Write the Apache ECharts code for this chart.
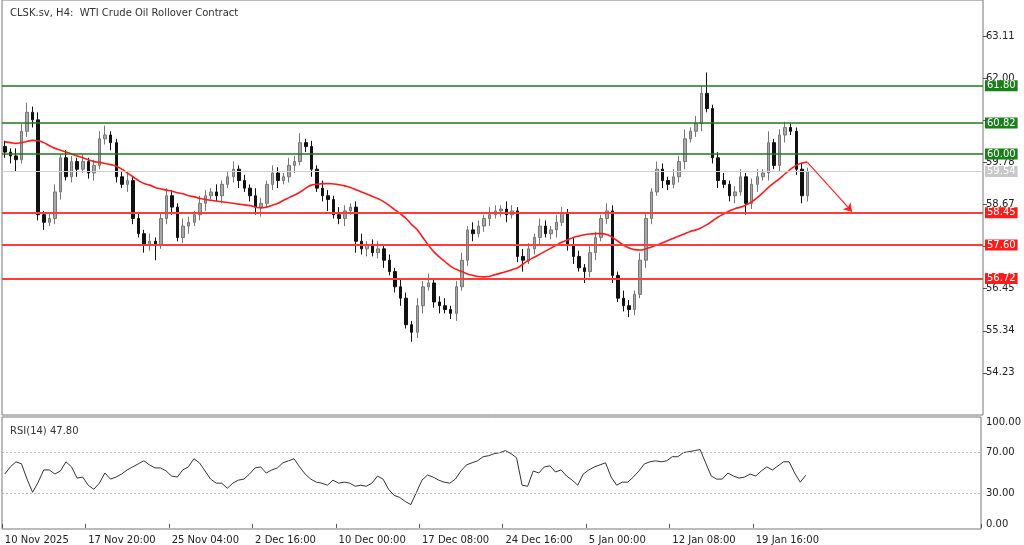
<!DOCTYPE html>
<html><head><meta charset="utf-8">
<script src="https://cdn.jsdelivr.net/npm/echarts@6/dist/echarts.min.js"></script>
<style>html,body{margin:0;padding:0;background:#fff}#c{width:1024px;height:545px}</style>
</head><body><div id="c"></div>
<script>
const closes=[60.05,59.95,59.85,60.6,61.1,60.9,58.4,58.2,58.3,59.0,59.9,59.4,59.8,59.6,59.8,59.5,59.7,60.4,60.5,60.3,
59.4,59.2,59.3,58.3,57.9,57.6,57.7,57.6,58.3,58.9,58.6,57.8,58.1,58.2,58.4,58.7,58.9,59.0,58.9,59.2,
59.4,59.6,59.3,59.1,58.9,58.6,58.7,59.2,59.5,59.3,59.4,59.7,59.8,60.3,60.2,59.6,59.1,58.9,58.8,58.4,
58.3,58.5,58.6,57.7,57.5,57.6,57.4,57.5,57.2,56.9,56.5,56.2,55.5,55.3,56.0,56.5,56.6,56.1,56.0,55.9,
55.8,56.5,57.2,58.0,57.9,58.1,58.3,58.4,58.5,58.55,58.4,58.5,57.3,57.2,57.5,57.8,58.1,57.9,58.0,58.2,
58.45,57.6,57.3,57.0,56.9,57.4,57.8,58.3,58.5,56.8,56.2,56.0,55.9,56.3,57.2,58.3,59.0,59.6,59.3,59.2,
59.4,59.8,60.4,60.6,60.8,61.6,61.2,59.9,59.3,59.2,58.9,59.0,59.4,58.7,59.2,59.4,59.5,60.3,59.7,60.5,
60.7,60.6,59.6,58.9,59.54];
const firstOpen=60.2;
const wickHi=[0.15,0.1,0.2,0.2,0.25,0.15,0.2,0.1,0.15,0.2,0.1,0.2,0.15,0.1,0.2,0.1,0.15,0.2,0.25,0.1,
0.1,0.15,0.2,0.1,0.15,0.1,0.2,0.1,0.15,0.2,0.15,0.1,0.2,0.15,0.1,0.2,0.15,0.1,0.2,0.1,
0.15,0.2,0.1,0.15,0.1,0.2,0.15,0.1,0.2,0.15,0.1,0.2,0.15,0.25,0.1,0.15,0.1,0.2,0.15,0.1,
0.2,0.15,0.1,0.15,0.2,0.1,0.15,0.2,0.1,0.15,0.1,0.2,0.15,0.1,0.2,0.15,0.25,0.1,0.15,0.2,
0.1,0.15,0.2,0.1,0.2,0.15,0.1,0.2,0.15,0.1,0.2,0.15,0.1,0.2,0.15,0.1,0.2,0.15,0.1,0.2,
0.15,0.1,0.2,0.15,0.1,0.2,0.15,0.1,0.2,0.15,0.1,0.2,0.15,0.1,0.2,0.15,0.1,0.2,0.15,0.1,
0.2,0.15,0.25,0.1,0.2,0.2,0.55,0.1,0.15,0.2,0.1,0.15,0.2,0.1,0.15,0.2,0.1,0.3,0.1,0.15,
0.15,0.1,0.1,0.15,0.1];
const wickLo=[0.15,0.2,0.3,0.1,0.15,0.2,0.15,0.2,0.1,0.15,0.2,0.1,0.15,0.2,0.1,0.15,0.2,0.1,0.15,0.2,
0.15,0.1,0.2,0.15,0.1,0.2,0.15,0.4,0.1,0.15,0.2,0.1,0.15,0.2,0.1,0.15,0.2,0.1,0.15,0.2,
0.1,0.15,0.2,0.1,0.15,0.2,0.25,0.1,0.15,0.2,0.1,0.15,0.2,0.1,0.15,0.2,0.1,0.15,0.3,0.1,
0.15,0.2,0.1,0.3,0.15,0.2,0.1,0.15,0.2,0.1,0.15,0.2,0.1,0.25,0.15,0.2,0.1,0.15,0.2,0.1,
0.15,0.2,0.1,0.15,0.2,0.1,0.15,0.2,0.1,0.15,0.2,0.1,0.15,0.3,0.1,0.15,0.2,0.1,0.15,0.2,
0.1,0.15,0.2,0.1,0.3,0.15,0.2,0.1,0.15,0.2,0.1,0.15,0.2,0.15,0.1,0.2,0.15,0.1,0.2,0.15,
0.1,0.15,0.2,0.1,0.15,0.2,0.1,0.15,0.2,0.1,0.15,0.2,0.1,0.3,0.15,0.2,0.1,0.2,0.1,0.15,
0.2,0.1,0.15,0.2,0.15];
const maValues=[60.32,60.3,60.28,60.3,60.33,60.36,60.35,60.3,60.22,60.15,60.1,60.05,60.0,59.95,59.9,59.85,59.8,59.78,59.75,59.72,
59.68,59.6,59.5,59.4,59.3,59.22,59.18,59.12,59.08,59.05,59.02,58.98,58.95,58.9,58.87,58.83,58.8,58.78,58.76,58.74,
58.72,58.7,58.68,58.66,58.64,58.6,58.58,58.6,58.65,58.7,58.78,58.85,58.92,59.0,59.1,59.18,59.2,59.22,59.22,59.21,
59.19,59.16,59.12,59.06,59.0,58.94,58.88,58.82,58.74,58.64,58.53,58.42,58.3,58.14,58.0,57.8,57.6,57.42,57.28,57.16,
57.04,56.96,56.9,56.84,56.8,56.77,56.76,56.78,56.82,56.86,56.9,56.95,57.0,57.1,57.2,57.28,57.36,57.44,57.52,57.6,
57.68,57.74,57.8,57.84,57.87,57.89,57.9,57.9,57.88,57.8,57.7,57.6,57.52,57.48,57.47,57.5,57.55,57.6,57.66,57.72,
57.78,57.84,57.9,57.96,58.0,58.06,58.14,58.24,58.34,58.42,58.5,58.56,58.6,58.66,58.74,58.85,58.98,59.12,59.24,59.35,
59.48,59.6,59.7,59.76,59.79];
const rsiValues=[49,56,61,59,44,31,41,53,53,49,52,61,56,45,46,38,34,40,50,44,
46,49,53,56,59,62,58,55,55,52,47,46,53,56,64,60,52,44,40,40,
35,40,43,44,49,55,56,50,53,55,60,62,64,56,49,44,41,40,38,43,
40,41,40,37,38,37,40,47,44,34,28,26,22,19,31,43,48,46,43,41,
40,44,52,58,60,62,66,67,69,70,72,69,65,38,37,52,50,56,57,51,
53,47,43,38,49,53,56,58,60,46,38,41,41,46,52,59,61,62,61,62,
66,66,70,71,72,73,60,47,44,44,50,47,45,46,49,47,52,56,53,57,
61,61,50,41,47.8];
const tickLabels=['10 Nov 2025','17 Nov 20:00','25 Nov 04:00','2 Dec 16:00','10 Dec 00:00','17 Dec 08:00','24 Dec 16:00','5 Jan 00:00','12 Jan 08:00','19 Jan 16:00'];
const resistance=[61.80,60.82,60.00];
const support=[58.45,57.60,56.72];
const lastPrice=59.54;
const arrowFrom=[144,59.78];
const arrowTo=[152,58.48];
const hiddenPriceTicks=['60.89','57.56'];

const N=176, STEP=15;
const cats=[];for(let i=0;i<N;i++){cats.push(i%STEP===0&&tickLabels[i/STEP]?tickLabels[i/STEP]:'');}
const isTick=(i)=>cats[i]!=='';
const ohlc=closes.map((c,i)=>{const o=i===0?firstOpen:closes[i-1];return [o,c,Math.min(o,c)-wickLo[i],Math.max(o,c)+wickHi[i]];});

const hline=(v,col,bg,w)=>({yAxis:v,lineStyle:{color:col,width:w,type:'solid'},label:{show:true,position:'end',distance:2,formatter:v.toFixed(2),color:'#fff',backgroundColor:bg,padding:[1,2,0,2],fontSize:10,fontFamily:'DejaVu Sans'}});
const marks=[];
resistance.forEach(v=>marks.push(hline(v,'#1c7a1c','#1a7f1a',1.5)));
support.forEach(v=>marks.push(hline(v,'#ff3b3b','#ff1a1a',1.8)));
marks.push(hline(lastPrice,'#cfcfcf','#c8c8c8',1));
marks.push([{coord:arrowFrom,symbol:'none'},{coord:arrowTo,symbol:'arrow',symbolSize:8,lineStyle:{color:'#ff2020',width:1.2,type:'solid'},label:{show:false}}]);

const chart=echarts.init(document.getElementById('c'),null,{renderer:'canvas'});
chart.setOption({
 animation:false,
 textStyle:{fontFamily:'DejaVu Sans'},
 title:[{text:'CLSK.sv, H4:  WTI Crude Oil Rollover Contract',left:5,top:3,textStyle:{fontSize:10,fontWeight:'normal',color:'#333'}},
        {text:'RSI(14) 47.80',left:5,top:421,textStyle:{fontSize:10,fontWeight:'normal',color:'#333'}}],
 grid:[{left:2,right:41,top:0,height:415,show:true,borderColor:'#777',borderWidth:1},
       {left:2,right:41,top:417,height:113,show:true,borderColor:'#777',borderWidth:1}],
 xAxis:[{type:'category',data:cats,gridIndex:0,boundaryGap:true,axisLine:{show:false},axisTick:{show:false},axisLabel:{show:false}},
        {type:'category',data:cats,gridIndex:1,boundaryGap:true,axisLine:{show:false},
         axisTick:{show:true,length:4,interval:isTick,lineStyle:{color:'#555'}},
         axisLabel:{interval:isTick,align:'left',color:'#222',fontSize:10,margin:6}}],
 yAxis:[{type:'value',gridIndex:0,position:'right',min:53.12,max:64.06,interval:1.11,scale:true,
         splitLine:{show:false},axisLine:{show:false},axisTick:{show:true,length:4,lineStyle:{color:'#555'}},
         axisLabel:{color:'#222',fontSize:10,margin:3,showMinLabel:false,showMaxLabel:false,
           formatter:v=>{const s=v.toFixed(2);return hiddenPriceTicks.includes(s)?'':s;}}},
        {type:'value',gridIndex:1,position:'right',min:-5,max:105,interval:5,
         splitLine:{show:false},axisLine:{show:false},axisTick:{show:false},
         axisLabel:{color:'#222',fontSize:10,margin:5,showMinLabel:false,showMaxLabel:false,
           formatter:v=>[0,30,70,100].includes(v)?v.toFixed(2):''}}],
 series:[
  {type:'candlestick',xAxisIndex:0,yAxisIndex:0,data:ohlc,barWidth:3,
   itemStyle:{color:'#a8a8a8',color0:'#111',borderColor:'#777',borderColor0:'#111',borderWidth:1},
   markLine:{silent:true,symbol:['none','none'],animation:false,data:marks}},
  {type:'line',xAxisIndex:0,yAxisIndex:0,data:maValues,showSymbol:false,smooth:true,lineStyle:{color:'#ff1a1a',width:1.6},z:3},
  {type:'line',xAxisIndex:1,yAxisIndex:1,data:rsiValues,showSymbol:false,lineStyle:{color:'#333',width:1},
   markLine:{silent:true,symbol:['none','none'],label:{show:false},lineStyle:{color:'#bbb',type:[2,2],width:1},data:[{yAxis:30},{yAxis:70}]}}
 ]
});
</script></body></html>
